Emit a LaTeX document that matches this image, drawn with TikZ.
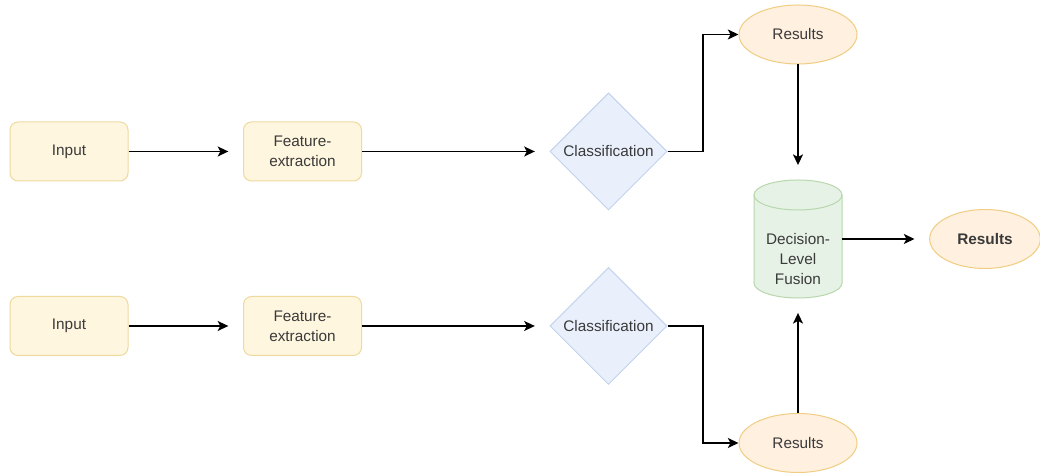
\documentclass[tikz,border=0pt]{standalone}
\usepackage{fontspec}
\setmainfont{Liberation Sans}
\usetikzlibrary{shapes.geometric,arrows.meta}
\definecolor{ylfill}{HTML}{FFF6DF}
\definecolor{ylline}{HTML}{EEDA9E}
\definecolor{blfill}{HTML}{E9F0FC}
\definecolor{blline}{HTML}{C2D3EE}
\definecolor{orfill}{HTML}{FFF0E0}
\definecolor{orline}{HTML}{F0CD82}
\definecolor{grfill}{HTML}{E7F2E6}
\definecolor{grline}{HTML}{B7D7AC}
\definecolor{txt}{HTML}{3A3A3A}
\tikzset{
  every node/.style={font=\fontsize{11.5pt}{15pt}\selectfont, text=txt},
  inbox/.style={draw=ylline, fill=ylfill, line width=0.75pt, rounded corners=6pt,
    minimum width=88.5pt, minimum height=44.25pt, inner sep=0pt, align=center},
  classbox/.style={diamond, draw=blline, fill=blfill, line width=0.75pt, aspect=1,
    minimum width=87.75pt, minimum height=87.75pt, inner sep=0pt},
  resbox/.style={ellipse, draw=orline, fill=orfill, line width=0.75pt,
    minimum width=88.5pt, minimum height=44.25pt, inner sep=0pt},
  fusbox/.style={rectangle, minimum width=66pt, minimum height=88.5pt, inner sep=0pt},
  arr/.style={draw=black, line width=1.05pt, -{Stealth[length=8pt,width=7.5pt,inset=2pt]}},
  gaparr/.style={arr, shorten >=11pt},
}
\begin{document}
\begin{tikzpicture}[x=0.75pt,y=0.75pt]
\path[fill=white] (0,0) rectangle (1040,473);
\useasboundingbox (0,0) rectangle (1040,473);

% top row
\node[inbox] (in1) at (69,321.5) {Input};
\node[inbox] (fe1) at (302.5,321.5) {Feature-\\extraction};
\node[classbox] (cl1) at (608.5,321.5) {Classification};
\node[resbox] (r1) at (798,438.5) {Results};

% bottom row
\node[inbox] (in2) at (69,147) {Input};
\node[inbox] (fe2) at (302.5,147) {Feature-\\extraction};
\node[classbox] (cl2) at (608.5,147) {Classification};
\node[resbox] (r2) at (798,30) {Results};

% fusion cylinder
\path[fill=grfill, draw=grline, line width=0.75pt]
  (754,278) -- (754,190) arc[start angle=180, end angle=360, x radius=33pt, y radius=11.25pt]
  -- (842,278) arc[start angle=0, end angle=180, x radius=33pt, y radius=11.25pt] -- cycle;
\draw[grline, line width=0.75pt] (754,278) arc[start angle=180, end angle=360, x radius=33pt, y radius=11.25pt];
\node[fusbox] (fus) at (798,234) {};
\node[align=center] (fustxt) at (798,214) {Decision-\\Level\\Fusion};

\node[resbox, font=\fontsize{11.5pt}{15pt}\selectfont\bfseries, minimum width=83pt] (rf) at (985,234) {Results};

% connectors
\draw[gaparr] (in1) -- (fe1);
\draw[gaparr] (fe1) -- (cl1);
\draw[gaparr] (in2) -- (fe2);
\draw[gaparr] (fe2) -- (cl2);

\coordinate (k1) at (703,321.5);
\coordinate (k2) at (703,147);
\draw[arr] (cl1.east) -- (k1) |- (r1.west);
\draw[arr] (cl2.east) -- (k2) |- (r2.west);

\draw[gaparr] (r1.south) -- (fus.north);
\draw[gaparr] (r2.north) -- (fus.south);
\draw[gaparr] (fus.east) -- (rf.west);
\end{tikzpicture}
\end{document}
